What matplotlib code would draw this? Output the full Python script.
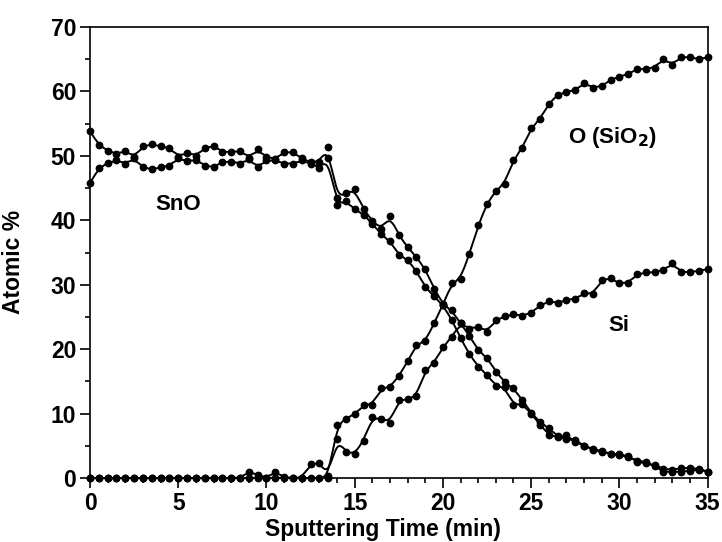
import numpy as np
import matplotlib
matplotlib.use("Agg")
import matplotlib.pyplot as plt
from matplotlib.ticker import MultipleLocator

plt.rcParams['font.family'] = ['Liberation Sans', 'DejaVu Sans']
plt.rcParams['font.weight'] = 'bold'

# sputtering time, one reading every 0.5 min
time_min = np.arange(0, 35.01, 0.5)

sn_o_a = [53.8, 51.7, 50.8, 50.3, 50.8, 49.8, 51.5, 51.8, 51.5, 51.2,
          49.9, 50.5, 50.0, 51.2, 51.6, 50.6, 50.6, 50.8, 49.7, 51.0,
          49.8, 49.5, 50.6, 50.6, 49.6, 49.0, 49.1, 51.4, 43.4, 44.2,
          44.8, 41.7, 39.9, 38.6, 40.7, 37.7, 35.8, 34.3, 32.4, 29.4,
          27.0, 26.0, 24.0, 22.1, 19.8, 18.7, 16.5, 14.9, 13.9, 12.1,
          10.1, 8.7, 7.7, 6.5, 6.0, 5.9, 5.0, 4.5, 4.2, 3.7,
          3.7, 3.4, 2.5, 2.3, 2.0, 1.4, 1.3, 1.5, 1.6, 1.4, 1.0]

sn_o_b = [45.8, 48.1, 48.9, 49.3, 48.8, 49.6, 48.2, 47.9, 48.2, 48.5,
          49.6, 49.2, 49.4, 48.5, 48.2, 49.1, 49.1, 48.8, 49.5, 48.2,
          49.3, 49.3, 48.8, 48.8, 49.3, 48.8, 48.1, 49.6, 42.3, 43.0,
          41.7, 40.9, 39.5, 37.8, 36.8, 34.6, 33.9, 32.1, 29.6, 28.2,
          26.8, 24.6, 21.7, 19.2, 17.3, 16.0, 14.3, 14.1, 11.3, 11.5,
          10.0, 8.3, 6.7, 6.3, 6.7, 5.6, 5.0, 4.4, 4.0, 3.8,
          3.5, 3.3, 2.7, 2.5, 1.8, 1.0, 0.9, 1.0, 1.1, 1.3, 1.0]

o_sio2 = [0, 0, 0, 0, 0, 0, 0, 0, 0, 0,
          0, 0, 0, 0, 0, 0, 0, 0, 1.0, 0.5,
          0, 1.0, 0.1, 0, 0, 0, 0, 0, 8.3, 9.2,
          9.9, 11.3, 11.4, 13.9, 14.1, 15.8, 18.1, 20.7, 21.2, 24.0,
          26.9, 30.2, 30.9, 34.8, 39.2, 42.6, 44.6, 45.7, 49.4, 51.2,
          54.3, 55.7, 58.1, 59.5, 59.9, 60.2, 61.3, 60.6, 60.8, 61.8,
          62.3, 62.7, 63.5, 63.5, 63.7, 65.1, 64.1, 65.4, 65.3, 65.0, 65.3]

si = [0, 0, 0, 0, 0, 0, 0, 0, 0, 0,
      0, 0, 0, 0, 0, 0, 0, 0, 0, 0,
      0, 0, 0, 0, 0, 2.2, 2.4, 0.3, 6.0, 4.0,
      3.7, 5.8, 9.4, 9.2, 8.6, 12.1, 12.2, 12.7, 16.7, 17.9,
      20.3, 21.9, 24.0, 23.2, 23.5, 22.7, 24.5, 25.1, 25.4, 25.2,
      25.6, 26.8, 27.4, 27.2, 27.6, 27.8, 28.7, 28.5, 30.8, 31.0,
      30.2, 30.3, 31.6, 31.9, 31.9, 32.3, 33.3, 32.0, 31.9, 32.2, 32.4]


def bspline(x, y, n=20):
    # clamped uniform cubic B-spline through the data as control points
    px = np.concatenate([[x[0]] * 2, x, [x[-1]] * 2])
    py = np.concatenate([[y[0]] * 2, y, [y[-1]] * 2])
    t = np.linspace(0, 1, n, endpoint=False)
    b0 = (1 - t) ** 3 / 6
    b1 = (3 * t ** 3 - 6 * t ** 2 + 4) / 6
    b2 = (-3 * t ** 3 + 3 * t ** 2 + 3 * t + 1) / 6
    b3 = t ** 3 / 6
    xs, ys = [], []
    for i in range(len(px) - 3):
        xs.append(b0 * px[i] + b1 * px[i + 1] + b2 * px[i + 2] + b3 * px[i + 3])
        ys.append(b0 * py[i] + b1 * py[i + 1] + b2 * py[i + 2] + b3 * py[i + 3])
    xs.append([x[-1]])
    ys.append([y[-1]])
    return np.concatenate(xs), np.concatenate(ys)


fig = plt.figure(figsize=(7.22, 5.42), dpi=100)
ax = fig.add_axes([0.1247, 0.1181, 0.8553, 0.832])

for series in (sn_o_a, sn_o_b, o_sio2, si):
    vals = np.array(series, dtype=float)
    sx, sy = bspline(time_min, vals)
    ax.plot(sx, sy, color='black', lw=1.4, clip_on=False, zorder=2)
    ax.plot(time_min, vals, 'o', color='black', ms=4.6, clip_on=False, zorder=3)

ax.set_xlim(0, 35)
ax.set_ylim(0, 70)
ax.xaxis.set_major_locator(MultipleLocator(5))
ax.xaxis.set_minor_locator(MultipleLocator(1))
ax.yaxis.set_major_locator(MultipleLocator(10))
ax.yaxis.set_minor_locator(MultipleLocator(5))
ax.tick_params(which='major', length=7, width=1.2, labelsize=16.5, direction='out', pad=3)
ax.tick_params(which='minor', length=3.5, width=1.2, direction='out')
for s in ax.spines.values():
    s.set_linewidth(1.2)

ax.set_xlabel('Sputtering Time (min)', fontsize=16.5, fontweight='bold')
ax.set_ylabel('Atomic %', fontsize=16.5, fontweight='bold')
ax.xaxis.set_label_coords(0.475, -0.088)
ax.yaxis.set_label_coords(-0.105, 0.48)

ax.text(5.0, 42.4, 'SnO', fontsize=16, fontweight='bold', ha='center', va='center')
ax.text(29.6, 52.9, 'O (SiO$_\\mathbf{2}$)', fontsize=16, fontweight='bold', ha='center', va='center')
ax.text(30.0, 23.7, 'Si', fontsize=16, fontweight='bold', ha='center', va='center')

fig.savefig('out.png', dpi=100)
